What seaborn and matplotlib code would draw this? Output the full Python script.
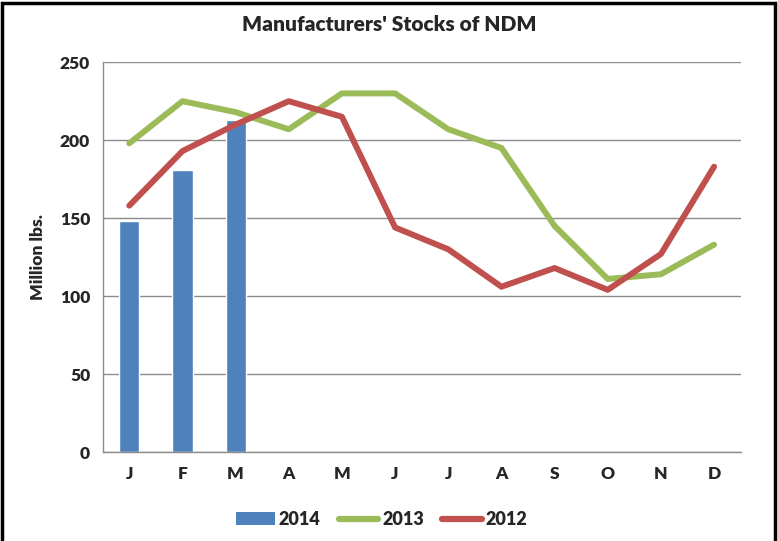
import matplotlib
matplotlib.use("Agg")
import matplotlib.pyplot as plt
import seaborn as sns
import pandas as pd
import numpy as np
from matplotlib.patches import Patch, Rectangle
from matplotlib.lines import Line2D

months = ["J", "F", "M", "A", "M", "J", "J", "A", "S", "O", "N", "D"]
stocks_2014 = [148, 181, 213]
stocks_2013 = [198, 225, 218, 207, 230, 230, 207, 195, 145, 111, 114, 133]
stocks_2012 = [158, 193, 210, 225, 215, 144, 130, 106, 118, 104, 127, 183]

sns.set_theme(style="white")
plt.rcParams['font.family'] = ['Lato', 'DejaVu Sans']

fig = plt.figure(figsize=(7.78, 5.41), dpi=100)
ax = fig.add_axes([0.132, 0.1645, 0.820, 0.7205])

blue, green, red = "#4F81BD", "#9BBB59", "#C0504D"

df14 = pd.DataFrame({"pos": np.arange(len(stocks_2014)), "val": stocks_2014})
sns.barplot(data=df14, x="pos", y="val", color=blue, width=0.38,
            saturation=1, ax=ax, zorder=2)

df13 = pd.DataFrame({"pos": np.arange(12), "val": stocks_2013})
df12 = pd.DataFrame({"pos": np.arange(12), "val": stocks_2012})
sns.lineplot(data=df13, x="pos", y="val", color=green, linewidth=4.3, ax=ax, zorder=3,
             solid_capstyle="round", solid_joinstyle="round")
sns.lineplot(data=df12, x="pos", y="val", color=red, linewidth=4.3, ax=ax, zorder=4,
             solid_capstyle="round", solid_joinstyle="round")

ax.set_xlim(-0.5, 11.5)
ax.set_ylim(0, 250)
ax.set_yticks([0, 50, 100, 150, 200, 250])
ax.set_xticks(np.arange(12))
ax.set_xticklabels(months)
ax.set_xticks(np.arange(-0.5, 12, 1), minor=True)
ax.tick_params(axis="x", which="major", length=0, pad=10, labelsize=12.5)
ax.tick_params(axis="x", which="minor", length=6, color="#888888", direction="out", width=1)
ax.tick_params(axis="y", length=5, color="#888888", direction="out", labelsize=12.5, pad=4)
for lab in ax.get_xticklabels() + ax.get_yticklabels():
    lab.set_fontweight("heavy")
ax.yaxis.grid(True, color="#8c8c8c", linewidth=1)
ax.xaxis.grid(False)
ax.set_axisbelow(True)
for s in ["top", "right"]:
    ax.spines[s].set_visible(False)
for s in ["left", "bottom"]:
    ax.spines[s].set_color("#8c8c8c")
    ax.spines[s].set_linewidth(1)
ax.set_xlabel("")
ax.set_ylabel("Million lbs.", fontsize=12.5, fontweight="heavy", labelpad=10)

fig.text(0.5, 0.955, "Manufacturers' Stocks of NDM", ha="center", va="center",
         fontsize=15, fontweight="heavy")

handles = [Patch(facecolor=blue, edgecolor="none"),
           Line2D([0], [0], color=green, linewidth=4.5, solid_capstyle="round"),
           Line2D([0], [0], color=red, linewidth=4.5, solid_capstyle="round")]
fig.legend(handles, ["2014", "2013", "2012"], loc="center", bbox_to_anchor=(0.49, 0.04),
           ncol=3, frameon=False, prop={"weight": "heavy", "size": 13},
           handlelength=2.2, handletextpad=0.2, columnspacing=1.0)

fig.patches.append(Rectangle((0.003, -0.01), 0.993, 1.005, transform=fig.transFigure,
                             fill=False, edgecolor="black", linewidth=2.5))

fig.savefig("out.png", dpi=100)
